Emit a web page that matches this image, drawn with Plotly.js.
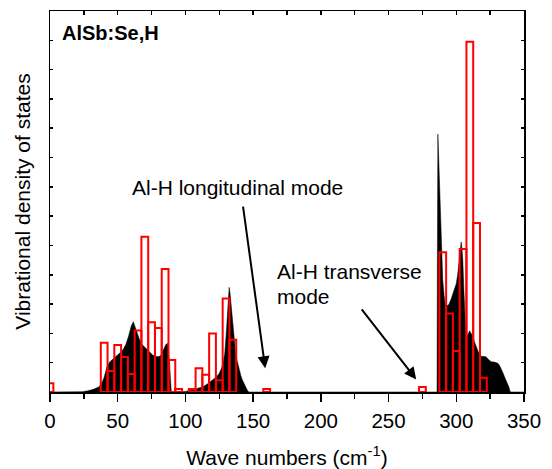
<!DOCTYPE html>
<html>
<head>
<meta charset="utf-8">
<script src="https://cdn.plot.ly/plotly-3.0.1.min.js"></script>
<style>html,body{margin:0;padding:0;background:#fff;}#chart{width:552px;height:469px;}</style>
</head>
<body>
<div id="chart"></div>
<script>
// Vibrational density of states (black filled curve)
const densX = [0, 20, 24, 28, 32, 36, 38, 40, 42, 44, 46, 49, 52, 54, 56, 58, 60, 61.5, 63, 64.5, 66, 68, 70, 72, 74, 76, 78, 80, 82, 84, 85.5, 86.8, 87.5, 88.3, 89, 89.6,
  95, 100, 105, 110, 113, 117, 120, 123, 125, 127, 128, 129, 130, 131, 131.8, 132.3, 133, 134, 135, 136, 137, 138, 139, 140, 141, 142, 143, 144, 145, 146, 147,
  284, 285.8, 286, 286.4, 287, 287.6, 288.3, 288.9, 290, 291, 291.8, 293, 294.3, 296, 297.5, 299, 300, 301, 302.4, 303.6, 304.2, 304.8, 305.6, 306.6, 308.1, 309.8, 311, 312.2, 313.5, 314.7, 316, 317.2, 318.4, 320, 322, 324, 325.8, 328, 330.7, 332, 333.2, 334.5, 335.6, 337, 338.1, 339, 339.5, 340, 350];
const densY = [0, 0, 0.01, 0.04, 0.09, 0.17, 0.28, 0.5, 0.85, 1.02, 1.1, 1.2, 1.35, 1.45, 1.62, 1.9, 2.25, 2.4, 2.2, 1.95, 1.8, 1.62, 1.52, 1.42, 1.32, 1.25, 1.22, 1.2, 1.25, 1.45, 1.62, 1.66, 1.4, 1.0, 0.4, 0,
  0, 0.02, 0.07, 0.13, 0.18, 0.3, 0.4, 0.52, 0.64, 0.85, 1.05, 1.3, 1.9, 2.8, 3.4, 3.57, 3.35, 2.85, 2.2, 1.7, 1.35, 1.1, 0.9, 0.72, 0.55, 0.42, 0.32, 0.2, 0.1, 0.03, 0,
  0, 0, 4, 8.8, 8.0, 7.0, 6.0, 4.95, 3.82, 3.3, 2.97, 2.95, 2.97, 3.15, 3.36, 3.55, 3.7, 4.0, 4.73, 5.12, 4.9, 4.5, 3.5, 2.45, 1.89, 2.09, 2.0, 1.89, 1.7, 1.54, 1.4, 1.26, 1.22, 1.2, 1.2, 1.1, 1.03, 1.02, 0.98, 0.9, 0.8, 0.65, 0.52, 0.38, 0.3, 0.15, 0.05, 0, 0];

// Red histogram bars (AlSb:Se,H)
const barX = [0, 40, 45, 50, 55, 60, 65, 70, 75, 80, 85, 90, 95, 105, 110, 115, 120, 125, 130, 135, 160, 275, 290, 295, 300, 305, 310, 315, 320];
const barY = [0.3, 1.68, 0.72, 1.6, 1.19, 0.61, 2.1, 5.3, 2.38, 2.18, 4.2, 1.09, 0.1, 0.1, 0.81, 0.59, 2.0, 0.4, 3.19, 1.78, 0.1, 0.17, 4.77, 2.68, 1.4, 4.88, 11.95, 5.77, 0.49];

const xTickVals = [0, 50, 100, 150, 200, 250, 300, 350];
const xTickText = ['0', '50', '100', '150', '200', '250', '300', '350'];

const FONT = '"Liberation Sans", Arial, Helvetica, sans-serif';

const traces = [
  {
    type: 'scatter', mode: 'lines', x: densX, y: densY,
    fill: 'tozeroy', fillcolor: '#000000',
    line: {color: '#000000', width: 0.5},
    hoverinfo: 'skip', showlegend: false
  },
  {
    type: 'bar', x: barX, y: barY, width: 5, xaxis: 'x2', yaxis: 'y',
    marker: {color: 'rgba(0,0,0,0)', line: {color: '#ff0000', width: 2}},
    hoverinfo: 'skip', showlegend: false
  }
];

const layout = {
  width: 552, height: 469,
  margin: {l: 50, r: 28, t: 11, b: 77},
  paper_bgcolor: '#ffffff', plot_bgcolor: '#ffffff',
  font: {family: FONT, size: 20, color: '#000'},
  showlegend: false,
  bargap: 0,
  xaxis: {
    range: [0, 350], showgrid: false, zeroline: false,
    showline: true, linecolor: '#000', linewidth: 1.5, mirror: true,
    tickmode: 'array', tickvals: xTickVals, ticktext: xTickText,
    ticks: 'outside', ticklen: 8, tickwidth: 1.5, tickcolor: '#000',
    minor: {dtick: 25, tick0: 0, ticks: 'outside', ticklen: 5, tickwidth: 1.5, tickcolor: '#000'},
    tickfont: {size: 20.5, family: FONT}, ticklabelstandoff: 2,
    title: {text: 'Wave numbers (cm<sup>-1</sup>)', font: {size: 21, family: FONT}, standoff: 21}
  },
  xaxis2: {
    overlaying: 'x', side: 'top', range: [0, 350], showgrid: false, zeroline: false,
    showline: false, showticklabels: false,
    tickmode: 'linear', tick0: 0, dtick: 25,
    ticks: 'inside', ticklen: 4, tickwidth: 1.5, tickcolor: '#000'
  },
  yaxis: {
    range: [0, 13], showgrid: false, zeroline: false,
    showline: true, linecolor: '#000', linewidth: 1.5, mirror: 'ticks',
    tickmode: 'linear', tick0: 0, dtick: 1,
    ticks: 'inside', ticklen: 3, tickwidth: 1.5, tickcolor: '#000',
    showticklabels: false,
    title: {text: 'Vibrational density of states', font: {size: 21, family: FONT}, standoff: 12}
  },
  annotations: [
    {xref: 'x', yref: 'y', x: 7.6, y: 12.26, xanchor: 'left', yanchor: 'middle', showarrow: false,
     text: '<b>AlSb:Se,H</b>', font: {size: 20, family: FONT, color: '#000'}},
    {xref: 'x', yref: 'y', x: 59.3, y: 6.98, xanchor: 'left', yanchor: 'middle', showarrow: false,
     text: 'Al-H longitudinal mode', font: {size: 21, family: FONT, color: '#000'}},
    {xref: 'x', yref: 'y', x: 166.3, y: 4.12, xanchor: 'left', yanchor: 'middle', showarrow: false,
     text: 'Al-H transverse', font: {size: 21, family: FONT, color: '#000'}},
    {xref: 'x', yref: 'y', x: 166.3, y: 3.26, xanchor: 'left', yanchor: 'middle', showarrow: false,
     text: 'mode', font: {size: 21, family: FONT, color: '#000'}},
    {xref: 'x', yref: 'y', axref: 'x', ayref: 'y', x: 158.9, y: 0.81, ax: 142.4, ay: 6.38,
     text: '', showarrow: true, arrowhead: 2, arrowsize: 1.2, arrowwidth: 2, arrowcolor: '#000', standoff: 0, startstandoff: 0},
    {xref: 'x', yref: 'y', axref: 'x', ayref: 'y', x: 270.4, y: 0.43, ax: 229.3, ay: 2.87,
     text: '', showarrow: true, arrowhead: 2, arrowsize: 1.2, arrowwidth: 2, arrowcolor: '#000', standoff: 0, startstandoff: 0}
  ]
};

Plotly.newPlot('chart', traces, layout, {staticPlot: true, displayModeBar: false});
</script>
</body>
</html>
